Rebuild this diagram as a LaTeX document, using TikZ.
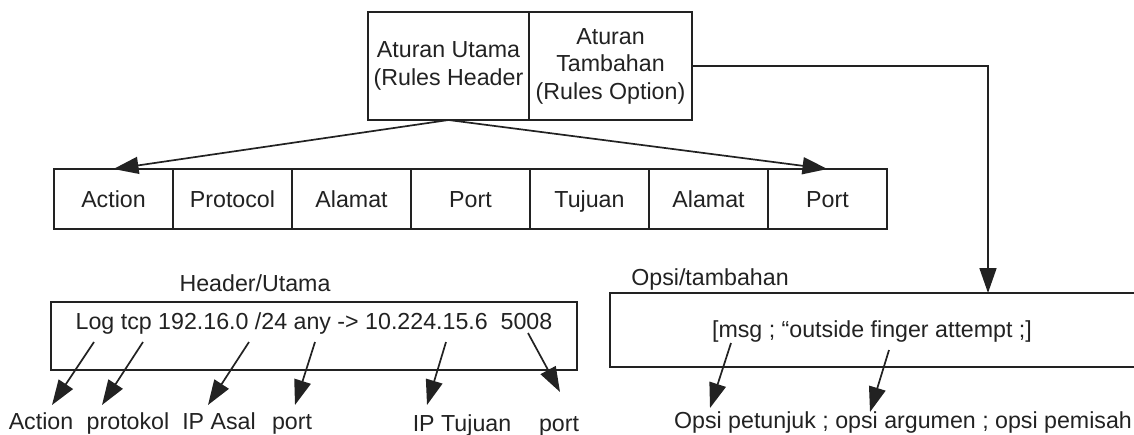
\documentclass[tikz,border=0pt]{standalone}
\usepackage{fontspec}
\setmainfont{Liberation Sans}
\usetikzlibrary{arrows.meta}
\definecolor{ink}{HTML}{222222}
\begin{document}
\begin{tikzpicture}[x=1pt,y=-1pt,
  every node/.style={font=\fontsize{23.2}{27.5}\selectfont, text=ink, inner sep=0pt, outer sep=0pt},
  box/.style={draw=ink, line width=1.5pt, fill=white},
  cell/.style={box, minimum width=119pt, minimum height=60pt, text height=16.5pt, text depth=0pt},
  lbl/.style={anchor=base},
  arr/.style={draw=ink, line width=1.7pt, -{Triangle[length=25pt,width=17pt]}}]
\useasboundingbox (0,0) rectangle (1134,434);

% rule parts
\node[box, minimum width=161pt, minimum height=108pt, align=center] (rh) at (448.5,66) {Aturan Utama\\(Rules Header};
\node[box, minimum width=163pt, minimum height=108pt, align=center] (ro) at (610.5,66) {Aturan\\Tambahan\\(Rules Option)};

% header fields
\foreach \t [count=\i] in {Action,Protocol,Alamat,Port,Tujuan,Alamat,Port}
  \node[cell] (c\i) at ({54+119*(\i-0.5)},199) {\t};

\draw[arr] (rh.south) -- (c1.north);
\draw[arr] (rh.south) -- (c7.north);

% header example
\node[lbl] (hlab) at (255,291) {Header/Utama};
\node[box, minimum width=526pt, minimum height=68pt] (hb) at (314,336) {};
\node[lbl] (htext) at (314,329) {Log tcp 192.16.0 /24 any -> 10.224.15.6\ \ 5008};

% option example
\node[lbl] (olab) at (710,285) {Opsi/tambahan};
\node[box, minimum width=530pt, minimum height=74pt] (ob) at (875,330) {};
\node[lbl] (otext) at (872,337) {[msg ; “outside finger attempt ;]};

\coordinate (drop) at (988,293);
\draw[arr] (ro.east) -| (drop);

% field labels
\node[lbl] (l1) at (41,429) {Action};
\node[lbl] (l2) at (128,429) {protokol};
\node[lbl] (l3) at (219,429) {IP Asal};
\node[lbl] (l4) at (292,429) {port};
\node[lbl] (l5) at (462,431) {IP Tujuan};
\node[lbl] (l6) at (559,431) {port};
\node[lbl] (l7) at (903,428) {Opsi petunjuk ; opsi argumen ; opsi pemisah};

% pointers from the example text to the labels
\coordinate (s1) at (94,342);  \coordinate (e1) at (52,405);
\coordinate (s2) at (143,342); \coordinate (e2) at (102,405);
\coordinate (s3) at (249,342); \coordinate (e3) at (208,405);
\coordinate (s4) at (315,342); \coordinate (e4) at (295,405);
\coordinate (s5) at (446,342); \coordinate (e5) at (427,405);
\coordinate (s6) at (528,333); \coordinate (e6) at (560,392);
\coordinate (s7) at (731,343); \coordinate (e7) at (710,408);
\coordinate (s8) at (889,350); \coordinate (e8) at (870,412);
\foreach \k in {1,...,8}
  \draw[arr] (s\k) -- (e\k);
\end{tikzpicture}
\end{document}
